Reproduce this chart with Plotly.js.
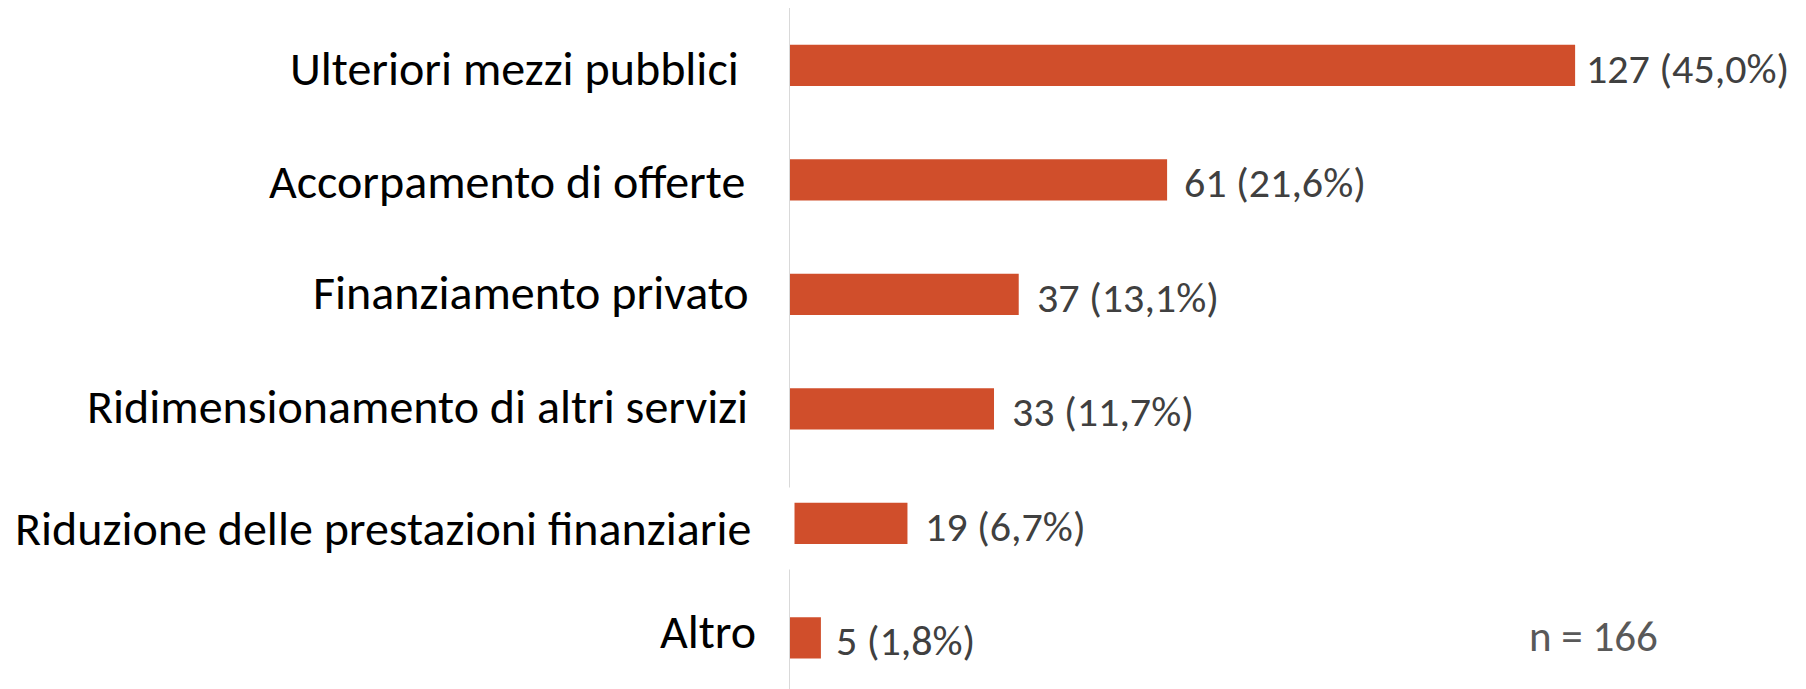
<!DOCTYPE html>
<html>
<head>
<meta charset="utf-8">
<script src="https://cdn.plot.ly/plotly-3.0.1.min.js"></script>
<style>html,body{margin:0;padding:0;background:#fff;}#chart{width:1806px;height:689px;}</style>
</head>
<body>
<div id="chart"></div>
<script>
// ---- data ----
const categories = [
  "Ulteriori mezzi pubblici",
  "Accorpamento di offerte",
  "Finanziamento privato",
  "Ridimensionamento di altri servizi",
  "Riduzione delle prestazioni finanziarie",
  "Altro"
];
const counts = [127, 61, 37, 33, 19, 5];
const percentLabels = ["45,0%", "21,6%", "13,1%", "11,7%", "6,7%", "1,8%"];
const sampleNote = "n = 166";

// ---- layout tweaks (pixels) ----
const W = 1806, H = 689, L = 790, T = 8;
const labelRightPx = [741, 747, 751, 750, 753, 758];
const labelYShift = [-3, -2, 2, 2, -5, 6];
const valueXShift = [9, 15, 16, 16, 16, 13];
const FONT = "Carlito, Calibri, 'Liberation Sans Narrow', 'Open Sans', sans-serif";
const barColor = "#D04E2B";

const plotW = W - L;
const px2paper = p => (p - L) / plotW;

const annotations = [];
categories.forEach((c, i) => {
  annotations.push({
    xref: "paper", yref: "y", x: px2paper(labelRightPx[i]), y: c,
    xanchor: "right", yanchor: "middle", showarrow: false,
    text: c, yshift: labelYShift[i],
    font: {family: FONT, size: 48, color: "#000000"}
  });
  annotations.push({
    xref: "x", yref: "y", x: counts[i], y: c,
    xanchor: "left", yanchor: "middle", showarrow: false,
    text: counts[i] + " (" + percentLabels[i] + ")", xshift: valueXShift[i], yshift: -3,
    font: {family: FONT, size: 42, color: "#404040"}
  });
});
// white mask where the long label overlaps the axis (as in the original)
annotations.push({
  xref: "paper", yref: "y", x: px2paper(795), y: categories[4],
  xanchor: "right", yanchor: "middle", showarrow: false,
  text: " ", width: 40, height: 79, bgcolor: "#ffffff", yshift: -5,
  font: {family: FONT, size: 10}
});
annotations.push({
  xref: "paper", yref: "paper", x: px2paper(1527), y: 1 - (636 - T) / (H - T),
  xanchor: "left", yanchor: "middle", showarrow: false,
  text: sampleNote,
  font: {family: FONT, size: 43, color: "#595959"}
});

const trace = {
  type: "bar", orientation: "h",
  x: counts, y: categories,
  width: 0.36,
  marker: {color: barColor},
  hoverinfo: "none"
};

const layout = {
  width: W, height: H,
  margin: {l: L, r: 0, t: T, b: 0, pad: 0},
  paper_bgcolor: "#ffffff", plot_bgcolor: "#ffffff",
  showlegend: false,
  xaxis: {range: [0, plotW / 6.182], visible: false, fixedrange: true},
  yaxis: {
    type: "category", range: [5.446, -0.502],
    showticklabels: false, ticks: "", showgrid: false, zeroline: false,
    showline: true, linecolor: "#d9d9d9", linewidth: 1.5, fixedrange: true
  },
  annotations: annotations
};

Plotly.newPlot("chart", [trace], layout, {displayModeBar: false, staticPlot: true});
</script>
</body>
</html>
